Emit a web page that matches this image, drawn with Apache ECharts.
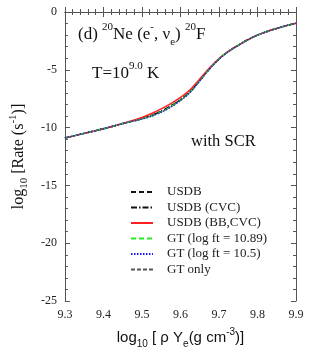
<!DOCTYPE html>
<html>
<head>
<meta charset="utf-8">
<script src="https://cdn.jsdelivr.net/npm/echarts@6/dist/echarts.min.js"></script>
<style>
  html, body { margin: 0; padding: 0; background: #fff; }
  #chart { width: 325px; height: 354px; }
</style>
</head>
<body>
<div id="chart"></div>
<script>
// log10(rho Ye) grid
const xs = [9.3, 9.35, 9.4, 9.45, 9.5, 9.525, 9.55, 9.575, 9.6, 9.625, 9.65, 9.675, 9.7, 9.725, 9.75, 9.775, 9.8, 9.825, 9.85, 9.875, 9.9];

// log10 rate values
const usdb     = [-10.9, -10.5, -10.1, -9.65, -9.22, -8.95, -8.6, -8.15, -7.6, -6.9, -5.93, -4.92, -4.06, -3.4, -2.88, -2.4, -2.0, -1.68, -1.42, -1.18, -0.97];
const usdbCvc  = [-10.9, -10.5, -10.1, -9.65, -9.21, -8.93, -8.58, -8.13, -7.58, -6.88, -5.92, -4.92, -4.06, -3.4, -2.88, -2.4, -2.0, -1.68, -1.42, -1.18, -0.97];
const usdbBb   = [-10.9, -10.5, -10.1, -9.64, -9.12, -8.78, -8.38, -7.92, -7.38, -6.72, -5.8, -4.85, -4.03, -3.39, -2.88, -2.4, -2.0, -1.68, -1.42, -1.18, -0.97];
const gt1089   = [-10.9, -10.5, -10.1, -9.66, -9.25, -8.99, -8.65, -8.2, -7.65, -6.94, -5.96, -4.94, -4.07, -3.41, -2.88, -2.4, -2.0, -1.68, -1.42, -1.18, -0.97];
const gt105    = [-10.9, -10.5, -10.1, -9.66, -9.26, -9.01, -8.67, -8.22, -7.67, -6.96, -5.97, -4.95, -4.07, -3.41, -2.89, -2.4, -2.0, -1.68, -1.42, -1.18, -0.97];
const gtOnly   = [-10.9, -10.5, -10.1, -9.66, -9.25, -9.0, -8.66, -8.21, -7.66, -6.95, -5.96, -4.94, -4.07, -3.41, -2.88, -2.4, -2.0, -1.68, -1.42, -1.18, -0.97];

const seriesNames = ['USDB', 'USDB (CVC)', 'USDB (BB,CVC)', 'GT (log ft = 10.89)', 'GT (log ft = 10.5)', 'GT only'];
const yTicks = [0, -5, -10, -15, -20, -25];

const serif = 'Liberation Serif, Times New Roman, serif';
const sans = 'Liberation Sans, Arial, sans-serif';

function pairs(ys) {
  return xs.map((x, i) => [x, ys[i]]);
}

function mkLine(name, ys, color, type, width) {
  return {
    name: name,
    type: 'line',
    data: pairs(ys),
    smooth: 0.3,
    symbol: 'none',
    lineStyle: { color: color, type: type, width: width },
    itemStyle: { color: color },
    z: 3
  };
}

const chart = echarts.init(document.getElementById('chart'));

const tickStyle = { show: true, inside: true, length: 5, lineStyle: { color: '#555' } };
const minorStyle = { show: true, splitNumber: 5, length: 3, lineStyle: { color: '#555' } };

chart.setOption({
  animation: false,
  grid: { left: 63, right: 29, top: 12, bottom: 52 },
  legend: {
    orient: 'vertical',
    left: 130,
    top: 185,
    padding: 0,
    // hide the marker dot, keep the line sample
    itemStyle: { color: 'rgba(0,0,0,0)', borderColor: 'rgba(0,0,0,0)', borderWidth: 0 },
    itemWidth: 22,
    itemHeight: 10,
    itemGap: 1.5,
    data: seriesNames,
    textStyle: { fontFamily: serif, fontSize: 13, lineHeight: 14, color: '#222', padding: [0, 0, 0, 9] }
  },
  xAxis: [{
    type: 'value',
    min: 9.3, max: 9.9, interval: 0.1,
    name: '{a|log}{s|10}{a| [ ρ Y}{s|e}{a|(g cm}{p|-3}{a|)]}',
    nameLocation: 'middle',
    nameGap: 26,
    nameTextStyle: {
      rich: {
        a: { fontFamily: sans, fontSize: 15, color: '#111', lineHeight: 22, verticalAlign: 'middle' },
        s: { fontFamily: sans, fontSize: 10, color: '#111', verticalAlign: 'bottom', lineHeight: 22 },
        p: { fontFamily: sans, fontSize: 10, color: '#111', verticalAlign: 'top', lineHeight: 22 }
      }
    },
    axisLine: { show: true, lineStyle: { color: '#555' } },
    axisTick: tickStyle,
    minorTick: minorStyle,
    splitLine: { show: false },
    axisLabel: { fontFamily: serif, fontSize: 12, color: '#222', margin: 8, formatter: v => v.toFixed(1) }
  }, {
    type: 'value', position: 'top',
    min: 9.3, max: 9.9, interval: 0.1,
    axisLine: { show: true, lineStyle: { color: '#555' } },
    axisTick: tickStyle,
    minorTick: minorStyle,
    splitLine: { show: false },
    axisLabel: { show: false }
  }],
  yAxis: [{
    type: 'value',
    min: -25, max: 0, interval: 5,
    name: '{a|log}{s|10}{a| [Rate (s}{p|-1}{a|)]}',
    nameLocation: 'middle',
    nameGap: 25,
    nameRotate: 90,
    nameTextStyle: {
      rich: {
        a: { fontFamily: serif, fontSize: 16, color: '#111', lineHeight: 22, verticalAlign: 'middle' },
        s: { fontFamily: serif, fontSize: 11, color: '#111', verticalAlign: 'bottom', lineHeight: 22 },
        p: { fontFamily: serif, fontSize: 11, color: '#111', verticalAlign: 'top', lineHeight: 22 }
      }
    },
    axisLine: { show: true, lineStyle: { color: '#555' } },
    axisTick: tickStyle,
    minorTick: minorStyle,
    splitLine: { show: false },
    axisLabel: { fontFamily: serif, fontSize: 12, color: '#222', margin: 8,
      formatter: v => (yTicks.indexOf(v) >= 0 ? String(v) : '') }
  }, {
    type: 'value', position: 'right',
    min: -25, max: 0, interval: 5,
    axisLine: { show: true, lineStyle: { color: '#555' } },
    axisTick: tickStyle,
    minorTick: minorStyle,
    splitLine: { show: false },
    axisLabel: { show: false }
  }],
  graphic: [{
    type: 'text',
    left: 78, top: 22,
    style: {
      text: '{a|(d) }{p|20}{a|Ne (e}{p|-}{a|, ν}{s|e}{a|) }{p|20}{a|F}',
      rich: {
        a: { fontFamily: serif, fontSize: 17, fill: '#111', lineHeight: 26, verticalAlign: 'middle' },
        p: { fontFamily: serif, fontSize: 11, fill: '#111', lineHeight: 26, verticalAlign: 'top' },
        s: { fontFamily: serif, fontSize: 11, fill: '#111', lineHeight: 26, verticalAlign: 'bottom' }
      }
    }
  }, {
    type: 'text',
    left: 92, top: 61,
    style: {
      text: '{a|T=10}{p|9.0}{a| K}',
      rich: {
        a: { fontFamily: serif, fontSize: 17, fill: '#111', lineHeight: 26, verticalAlign: 'middle' },
        p: { fontFamily: serif, fontSize: 11, fill: '#111', lineHeight: 26, verticalAlign: 'top' }
      }
    }
  }, {
    type: 'text',
    left: 191, top: 133,
    style: { text: 'with SCR', font: '16.5px ' + serif, fill: '#111' }
  }],
  series: [
    mkLine(seriesNames[0], usdb, '#111', [5, 3], 1.5),
    mkLine(seriesNames[1], usdbCvc, '#111', [6, 2, 1.5, 2], 1.5),
    mkLine(seriesNames[2], usdbBb, '#ff2020', 'solid', 1.5),
    mkLine(seriesNames[3], gt1089, '#22ee22', [5, 3], 1.5),
    mkLine(seriesNames[4], gt105, '#1a1aff', [1.5, 1.5], 1.5),
    mkLine(seriesNames[5], gtOnly, '#555', [4, 2], 0.8)
  ]
});
</script>
</body>
</html>
